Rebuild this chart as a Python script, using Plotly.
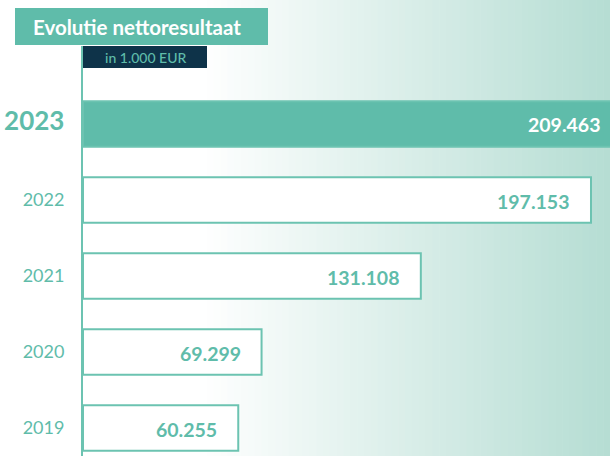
import plotly.graph_objects as go

# ---- data ----
years = ["2019", "2020", "2021", "2022", "2023"]
values = [60255, 69299, 131108, 197153, 209463]
value_labels = ["60.255", "69.299", "131.108", "197.153", "209.463"]
tick_labels = ["2019", "2020", "2021", "2022", "<span style='font-size:26px'><b>2023</b></span>"]
title_text = "Evolutie nettoresultaat"
unit_text = "in 1.000 EUR"

# ---- style ----
TEAL = "#5fbcaa"
TEAL_LINE = "#6cc3b1"
NAVY = "#0e3349"
W, H = 610, 456
ML, MT = 83, 46
PW, PH = W - ML, H - MT
X_MAX = 204530  # visible end of the value axis (longest bar runs off the edge)

def px_x(px):
    return (px - ML) / PW

def px_y(py):
    return (H - py) / PH

highlight = [y == "2023" for y in years]
fill_colors = [TEAL if h else "white" for h in highlight]
text_colors = ["white" if h else TEAL for h in highlight]

fig = go.Figure(
    go.Bar(
        y=years,
        x=values,
        orientation="h",
        width=0.6,
        marker=dict(color=fill_colors, line=dict(color=TEAL_LINE, width=2)),
        hoverinfo="skip",
    )
)

# background gradient (white -> light teal) as vertical strips
shapes = []
n = 60
x_start, x_end = 200, W
c0 = (255, 255, 255)
c1 = (181, 221, 211)
shapes.append(dict(type="rect", xref="paper", yref="paper", x0=px_x(0), x1=px_x(x_start + 1),
                   y0=px_y(H), y1=px_y(0), fillcolor="white", line=dict(width=0), layer="below"))
for i in range(n):
    a = x_start + (x_end - x_start) * i / n
    b = x_start + (x_end - x_start) * (i + 1) / n
    t = (i + 0.5) / n
    col = tuple(round(c0[k] + (c1[k] - c0[k]) * t) for k in range(3))
    shapes.append(dict(type="rect", xref="paper", yref="paper", x0=px_x(a), x1=px_x(b + 0.6),
                       y0=px_y(H), y1=px_y(0), fillcolor="rgb(%d,%d,%d)" % col,
                       line=dict(width=0), layer="below"))

# title boxes
shapes.append(dict(type="rect", xref="paper", yref="paper", x0=px_x(15), x1=px_x(268),
                   y0=px_y(45), y1=px_y(8), fillcolor=TEAL, line=dict(width=0), layer="above"))
shapes.append(dict(type="rect", xref="paper", yref="paper", x0=px_x(83), x1=px_x(207),
                   y0=px_y(68), y1=px_y(46), fillcolor=NAVY, line=dict(width=0), layer="above"))

annotations = [
    dict(text=title_text, xref="paper", yref="paper", x=px_x(31), y=px_y(27),
         xanchor="left", yanchor="middle", showarrow=False,
         font=dict(family="Lato", size=20.5, weight="bold", color="white")),
    dict(text=unit_text, xref="paper", yref="paper", x=px_x(145), y=px_y(57),
         xanchor="center", yanchor="middle", showarrow=False,
         font=dict(family="Lato", size=14, weight=500, color=TEAL)),
]

# value labels at the (visible) end of each bar
for idx, (v, lab, col) in enumerate(zip(values, value_labels, text_colors)):
    clipped = v > X_MAX
    annotations.append(dict(
        text=lab, xref="x", yref="y", x=min(v, X_MAX * 0.9999), y=idx,
        xanchor="right", yanchor="middle", xshift=-7 if clipped else -19, yshift=-1,
        showarrow=False,
        font=dict(family="Lato", size=19.5, weight="bold", color=col),
    ))

fig.update_layout(
    width=W,
    height=H,
    margin=dict(l=ML, r=0, t=MT, b=0, pad=0),
    paper_bgcolor="white",
    plot_bgcolor="rgba(0,0,0,0)",
    showlegend=False,
    shapes=shapes,
    annotations=annotations,
    bargap=0.4,
)
fig.update_xaxes(range=[0, X_MAX], visible=False, fixedrange=True)
fig.update_yaxes(
    type="category",
    categoryorder="array",
    categoryarray=years,
    range=[-0.368, 5.026],
    tickmode="array",
    tickvals=years,
    ticktext=tick_labels,
    ticks="",
    ticklabelstandoff=13,
    tickfont=dict(family="Lato", size=18, color=TEAL),
    showline=True,
    linecolor=TEAL_LINE,
    linewidth=2,
    showgrid=False,
    zeroline=False,
    fixedrange=True,
)

fig.write_html(
    "out.html",
    config={"displayModeBar": False},
    post_script="document.body.style.margin='0';document.body.style.overflow='hidden';",
)
